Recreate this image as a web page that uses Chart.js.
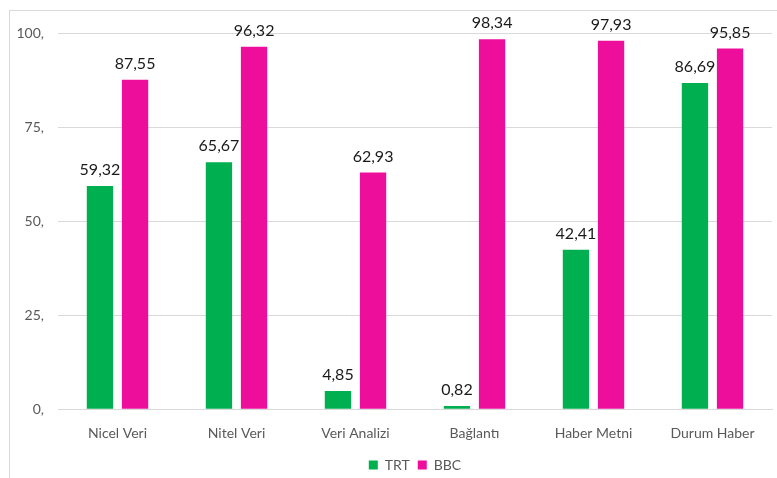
<!DOCTYPE html>
<html lang="tr">
<head>
    <meta charset="UTF-8">
    <title>TRT - BBC</title>
    <script src="https://cdn.jsdelivr.net/npm/chart.js"></script>
    <style>
        body {
            margin: 0;
            background-color: #fff;
            width: 777px;
            height: 478px;
            overflow: hidden;
        }

        .frame {
            position: absolute;
            left: 9px;
            top: 10px;
            width: 900px;
            height: 600px;
            border-left: 1px solid #d9d9d9;
            border-top: 1px solid #d9d9d9;
        }

        .wrap {
            position: absolute;
            left: 0;
            top: 0;
            width: 777px;
            height: 478px;
        }
    </style>
</head>
<body>
    <div class="frame"></div>
    <div class="wrap"><canvas id="chart"></canvas></div>

    <script>
        const categories = ['Nicel Veri', 'Nitel Veri', 'Veri Analizi', 'Bağlantı', 'Haber Metni', 'Durum Haber'];
        const trtValues = [59.32, 65.67, 4.85, 0.82, 42.41, 86.69];
        const bbcValues = [87.55, 96.32, 62.93, 98.34, 97.93, 95.85];
        const yTicks = [0, 25, 50, 75, 100];

        const fmt = v => v.toFixed(2).replace('.', ',');

        // values above bars
        const barLabels = {
            id: 'barLabels',
            afterDatasetsDraw(chart) {
                const ctx = chart.ctx;
                ctx.save();
                ctx.font = '16px Lato';
                ctx.fillStyle = '#1a1a1a';
                ctx.textAlign = 'center';
                ctx.textBaseline = 'bottom';
                chart.data.datasets.forEach((ds, i) => {
                    chart.getDatasetMeta(i).data.forEach((bar, j) => {
                        ctx.fillText(fmt(ds.data[j]), bar.x, bar.y - 8);
                    });
                });
                ctx.restore();
            }
        };

        new Chart(document.getElementById('chart'), {
            type: 'bar',
            data: {
                labels: categories,
                datasets: [
                    { label: 'TRT', data: trtValues, backgroundColor: '#00B050' },
                    { label: 'BBC', data: bbcValues, backgroundColor: '#ED0F9C' }
                ]
            },
            options: {
                responsive: true,
                maintainAspectRatio: false,
                animation: false,
                categoryPercentage: 0.59,
                barPercentage: 0.75,
                layout: { padding: { top: 33, right: 5, left: 0, bottom: -4 } },
                plugins: {
                    tooltip: { enabled: false },
                    legend: {
                        position: 'bottom',
                        fullSize: false,
                        labels: {
                            boxWidth: 9,
                            boxHeight: 9,
                            padding: 8,
                            color: '#595959',
                            font: { family: 'Lato', size: 14 }
                        }
                    }
                },
                scales: {
                    x: {
                        grid: { display: false },
                        border: { color: '#d9d9d9', width: 1 },
                        ticks: {
                            color: '#595959',
                            padding: 8,
                            font: { family: 'Lato', size: 14 }
                        }
                    },
                    y: {
                        min: 0,
                        max: 100,
                        afterFit(scale) { scale.width = 58; },
                        afterBuildTicks(scale) {
                            scale.ticks = yTicks.map(v => ({ value: v }));
                        },
                        grid: { color: '#d9d9d9', drawTicks: false },
                        border: { display: false },
                        ticks: {
                            color: '#595959',
                            padding: 14,
                            font: { family: 'Lato', size: 14 },
                            callback: v => v + ','
                        }
                    }
                }
            },
            plugins: [barLabels]
        });
    </script>
</body>
</html>
